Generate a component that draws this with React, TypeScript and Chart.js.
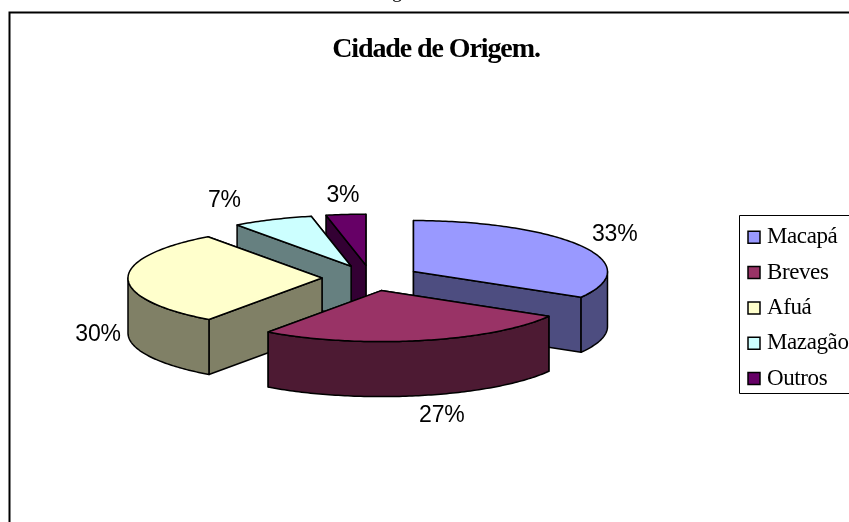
import React, { useEffect, useRef } from "react";
import { Chart, registerables } from "chart.js";

Chart.register(...registerables);

const chartTitle = "Cidade de Origem.";
const categories = ["Macapá", "Breves", "Afuá", "Mazagão", "Outros"];
const shares = [33.4, 26.5, 30.1, 6.7, 3.3];
const topColors = ["#9999FF", "#993366", "#FFFFCC", "#CCFFFF", "#660066"];
const sideColors = ["#4D4D80", "#4D1A33", "#808066", "#668080", "#330033"];
// label nudges relative to each slice's outer-rim midpoint (px)
const labelNudgeX = [33, 20, -30, -48, -3];
const labelNudgeY = [-12, 75, 56, -19, -19];

const TILT = 0.263;
const DEPTH = 55;
const EXPLODE = 49;
const INK = "#000000";

function withSpacing(chart: any, box: any, spacing: string, shift: number) {
  if (box.__wrapped) return;
  box.__wrapped = true;
  const draw = box.draw;
  box.draw = function (...args: any[]) {
    const c = chart.ctx;
    const saved = c.letterSpacing;
    const fill = c.fillText;
    c.letterSpacing = spacing;
    c.fillText = function (t: string, x: number, y: number, m?: number) {
      if (m === undefined) fill.call(c, t, x + shift, y);
      else fill.call(c, t, x + shift, y, m);
    };
    draw.apply(this, args);
    delete c.fillText;
    c.letterSpacing = saved;
  };
}

const pie3d = {
  id: "pie3d",
  afterLayout(chart: any) {
    chart.chartArea = { left: 177, right: 565, top: 84, bottom: 472, width: 388, height: 388 };
    const t = chart.titleBlock;
    t.left = 236; t.right = 636; t.top = 27.3; t.bottom = 66;
    withSpacing(chart, t, "-1.1px", 0);
    const l = chart.legend;
    const pad = l.options.labels.padding;
    l.left = 748 - pad; l.right = l.left + 120; l.top = 213.5; l.bottom = 522;
    withSpacing(chart, l, "-0.4px", -4.5);
  },
  beforeDraw(chart: any) {
    const c = chart.ctx;
    c.save();
    c.fillStyle = "#fff";
    c.fillRect(0, 0, chart.width, chart.height);
    c.strokeStyle = "#000";
    c.lineWidth = 2;
    c.beginPath();
    c.moveTo(9.5, chart.height + 2);
    c.lineTo(9.5, 12.5);
    c.lineTo(chart.width + 2, 12.5);
    c.stroke();
    c.fillStyle = "#000";
    c.font = "20px 'Liberation Serif'";
    c.textBaseline = "alphabetic";
    c.fillText("g", 392, -3);
    // legend frame
    c.fillStyle = "#fff";
    c.strokeStyle = "#000";
    c.lineWidth = 1;
    c.beginPath();
    c.rect(739.5, 215.5, 120, 178);
    c.fill();
    c.stroke();
    c.restore();
  },
  beforeDatasetsDraw(chart: any) {
    const meta = chart.getDatasetMeta(0);
    const c = chart.ctx;
    const slices = meta.data.map((arc: any, i: number) => {
      const a0 = arc.startAngle;
      const a1 = arc.endAngle;
      const mid = (a0 + a1) / 2;
      const off = arc.options.offset;
      return {
        i, a0, a1, mid,
        cx: arc.x + off * Math.cos(mid),
        cy: arc.y + off * TILT * Math.sin(mid),
        r: arc.outerRadius,
      };
    });
    const pt = (s: any, a: number, d = 0): [number, number] => [
      s.cx + s.r * Math.cos(a),
      s.cy + s.r * TILT * Math.sin(a) + d,
    ];
    const arcPath = (s: any, from: number, to: number, d: number) => {
      const n = Math.max(2, Math.ceil(Math.abs(to - from) * 60));
      for (let k = 0; k <= n; k++) {
        const p = pt(s, from + ((to - from) * k) / n, d);
        c.lineTo(p[0], p[1]);
      }
    };
    c.save();
    c.strokeStyle = INK;
    c.lineWidth = 1.5;
    c.lineJoin = "round";
    const ordered = [...slices].sort((p: any, q: any) => p.cy - q.cy);
    for (const s of ordered) {
      c.fillStyle = sideColors[s.i];
      const cuts = [s.a0, s.a1].sort((p, q) => Math.sin(p) - Math.sin(q));
      for (const a of cuts) {
        const e = pt(s, a);
        c.beginPath();
        c.moveTo(s.cx, s.cy);
        c.lineTo(e[0], e[1]);
        c.lineTo(e[0], e[1] + DEPTH);
        c.lineTo(s.cx, s.cy + DEPTH);
        c.closePath();
        c.fill();
        c.stroke();
      }
      // outer wall: only the part of the rim that faces the viewer
      const ranges = [[0, Math.PI], [2 * Math.PI, 3 * Math.PI]];
      for (const [lo, hi] of ranges) {
        const from = Math.max(s.a0, lo);
        const to = Math.min(s.a1, hi);
        if (to > from) {
          const p0 = pt(s, from);
          c.beginPath();
          c.moveTo(p0[0], p0[1]);
          arcPath(s, from, to, 0);
          arcPath(s, to, from, DEPTH);
          c.closePath();
          c.fill();
          c.stroke();
        }
      }
      // top face
      c.fillStyle = topColors[s.i];
      c.beginPath();
      c.moveTo(s.cx, s.cy);
      arcPath(s, s.a0, s.a1, 0);
      c.closePath();
      c.fill();
      c.stroke();
    }
    // percentage labels
    const total = shares.reduce((p, q) => p + q, 0);
    c.fillStyle = "#000";
    c.font = "23px 'Liberation Sans'";
    c.letterSpacing = "-0.2px";
    c.textAlign = "center";
    c.textBaseline = "middle";
    for (const s of slices) {
      const m = pt(s, s.mid);
      c.fillText(
        Math.round((shares[s.i] / total) * 100) + "%",
        m[0] + labelNudgeX[s.i],
        m[1] + labelNudgeY[s.i]
      );
    }
    c.letterSpacing = "0px";
    c.restore();
    return false;
  },
};

export default function App() {
  const ref = useRef<HTMLCanvasElement>(null);
  useEffect(() => {
    document.body.style.margin = "0";
    const chart = new Chart(ref.current as HTMLCanvasElement, {
      type: "pie",
      data: {
        labels: categories,
        datasets: [
          {
            data: shares,
            backgroundColor: topColors,
            borderColor: INK,
            borderWidth: 1.5,
            offset: EXPLODE,
            hoverOffset: 0,
            radius: 194,
          },
        ],
      },
      options: {
        responsive: false,
        animation: false,
        events: [],
        plugins: {
          title: {
            display: true,
            text: chartTitle,
            color: "#000",
            font: { family: "'Liberation Serif'", size: 28, weight: "bold" },
            padding: { top: 6, bottom: 6 },
          },
          legend: {
            display: true,
            position: "right",
            align: "start",
            labels: {
              color: "#000",
              boxWidth: 12,
              boxHeight: 12,
              padding: 12.3,
              font: { family: "'Liberation Serif'", size: 23 },
            },
          },
          tooltip: { enabled: false },
        },
      },
      plugins: [pie3d],
    } as any);
    return () => chart.destroy();
  }, []);
  return (
    <canvas
      ref={ref}
      width={849}
      height={522}
      style={{ display: "block", position: "absolute", left: 0, top: 0 }}
    />
  );
}
